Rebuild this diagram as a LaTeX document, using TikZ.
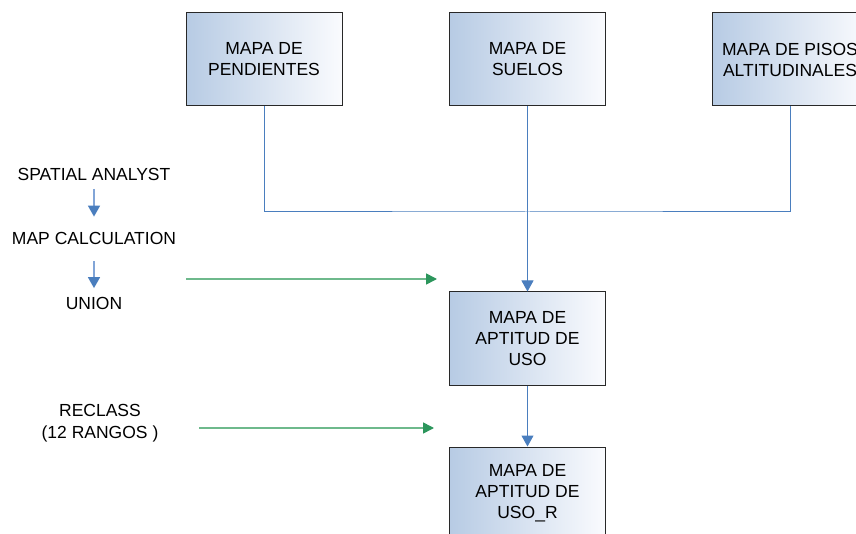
\documentclass[tikz,border=0pt]{standalone}
\usepackage{fontspec}
\setmainfont{Liberation Sans}
\usetikzlibrary{arrows.meta}
\definecolor{boxleft}{RGB}{183,203,228}
\definecolor{boxright}{RGB}{250,251,254}
\definecolor{boxedge}{RGB}{40,40,40}
\definecolor{flowblue}{RGB}{74,126,190}
\definecolor{softblue}{RGB}{130,165,215}
\definecolor{flowgreen}{RGB}{44,150,92}
\definecolor{softgreen}{RGB}{110,185,140}
\tikzset{
  mapbox/.style={draw=boxedge, line width=1pt, left color=boxleft, right color=boxright,
    minimum width=156pt, minimum height=93pt, align=center, inner sep=0pt,
    font=\fontsize{17.5}{21}\selectfont},
  tool/.style={align=center, inner sep=0pt, font=\fontsize{17.5}{22}\selectfont},
  bluetip/.style={-{Triangle[width=12pt,length=11pt,color=flowblue]}},
  flow/.style={draw=flowblue, line width=1pt},
  stepflow/.style={draw=softblue, line width=1.6pt, bluetip},
  feed/.style={draw=softgreen, line width=1.6pt,
    -{Triangle[width=11pt,length=11pt,color=flowgreen]}}
}
\begin{document}
\begin{tikzpicture}[x=1pt, y=-1pt]
  \clip (0,0) rectangle (856,534);
  \fill[white] (0,0) rectangle (856,534);

  % source maps
  \node[mapbox] (pend)   at (264,59.5)   {MAPA DE\\PENDIENTES};
  \node[mapbox] (suelos) at (527.5,59.5) {MAPA DE\\SUELOS};
  \node[mapbox] (pisos)  at (790,59.5)   {MAPA DE PISOS\\ALTITUDINALES};

  % derived maps
  \node[mapbox] (apt)  at (527.5,338.5) {MAPA DE\\APTITUD DE\\USO};
  \node[mapbox] (aptr) at (527.5,493.5) {MAPA DE\\APTITUD DE\\USO\_R};

  % collector line joining the three inputs
  \coordinate (bus) at (527.5,212);
  \draw[flow] (pend.south) |- (bus) -| (pisos.south);
  \draw[flow, bluetip] (suelos.south) -- (apt.north);
  \draw[flow, bluetip] (apt.south) -- (aptr.north);

  % tool sequence
  \node[tool] (sa)  at (94,174.5) {SPATIAL ANALYST};
  \node[tool] (mc)  at (94,238)   {MAP CALCULATION};
  \node[tool] (un)  at (94,303.5) {UNION};
  \draw[stepflow, shorten <=8pt, shorten >=15pt] (sa.south) -- (mc.north);
  \draw[stepflow, shorten <=17pt, shorten >=9pt] (mc.south) -- (un.north);

  \node[tool] (rc) at (100,423) {RECLASS\\(12 RANGOS )};

  % operations feeding the processing steps
  \coordinate (u0) at (186,279);
  \coordinate (u1) at (437,279);
  \draw[feed] (u0) -- (u1);
  \coordinate (r0) at (199,428);
  \coordinate (r1) at (434,428);
  \draw[feed] (r0) -- (r1);
\end{tikzpicture}
\end{document}
